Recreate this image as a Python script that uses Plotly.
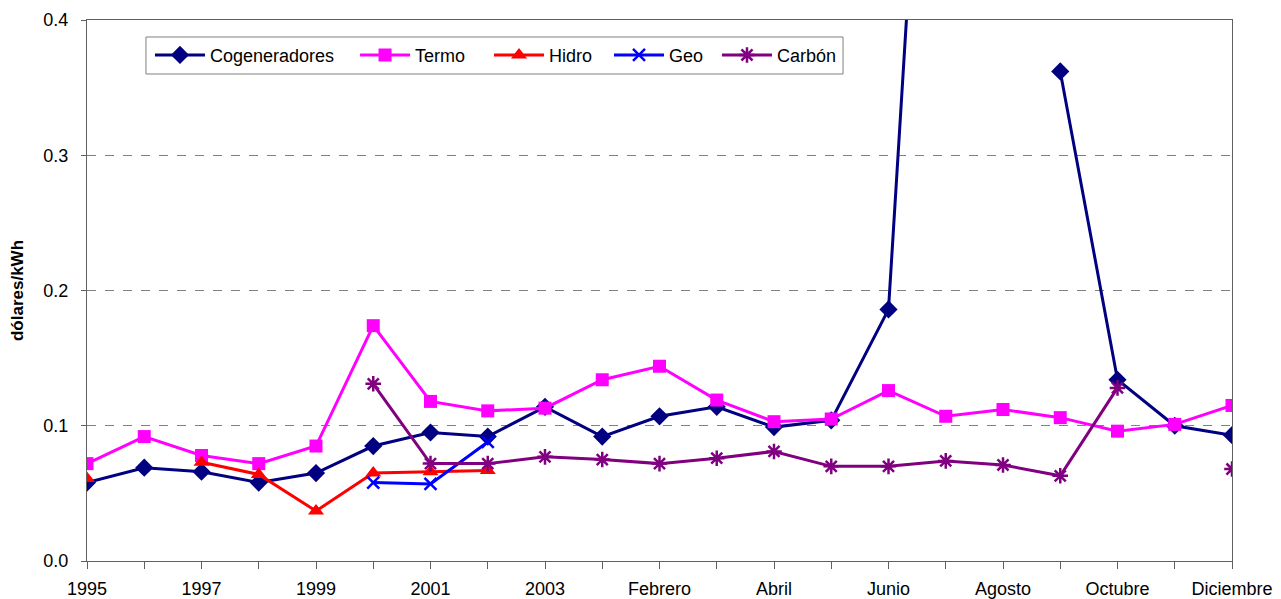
import plotly.graph_objects as go

categories = ["1995", "1996", "1997", "1998", "1999", "2000", "2001", "2002", "2003",
              "Enero", "Febrero", "Marzo", "Abril", "Mayo", "Junio", "Julio", "Agosto",
              "Septiembre", "Octubre", "Noviembre", "Diciembre"]

cogeneradores = [0.058, 0.069, 0.066, 0.058, 0.065, 0.085, 0.095, 0.092, 0.114,
                 0.092, 0.107, 0.114, 0.099, 0.104, 0.186, 0.87, None,
                 0.362, 0.134, 0.100, 0.093]
termo = [0.072, 0.092, 0.078, 0.072, 0.085, 0.174, 0.118, 0.111, 0.113,
         0.134, 0.144, 0.119, 0.103, 0.105, 0.126, 0.107, 0.112,
         0.106, 0.096, 0.101, 0.115]
hidro = [0.061, None, 0.073, 0.064, 0.037, 0.065, 0.066, 0.067] + [None] * 13
geo = [None] * 5 + [0.058, 0.057, 0.088] + [None] * 13
carbon = [None] * 5 + [0.131, 0.072, 0.072, 0.077,
          0.075, 0.072, 0.076, 0.081, 0.070, 0.070, 0.074, 0.071,
          0.063, 0.128, None, 0.068]

tick_labels = [c if i % 2 == 0 else "" for i, c in enumerate(categories)]

series = [
    ("Cogeneradores", cogeneradores, "#000080", "diamond", 14),
    ("Termo", termo, "#FF00FF", "square", 13),
    ("Hidro", hidro, "#FF0000", "triangle-up", 14),
    ("Geo", geo, "#0000FF", "x-thin-open", 12),
    ("Carbón", carbon, "#800080", "asterisk-open", 13),
]
legend_x = [0.0550, 0.2341, 0.3511, 0.4559, 0.5502]

fig = go.Figure()
legend_layout = {}
for i, (name, vals, color, sym, size) in enumerate(series):
    open_sym = sym.endswith("open")
    lg = "legend" if i == 0 else f"legend{i + 1}"
    fig.add_trace(go.Scatter(
        x=categories, y=vals, name=name, mode="lines+markers",
        line=dict(color=color, width=3),
        marker=dict(symbol=sym, size=size, color=color,
                    line=dict(color=color, width=2.5 if open_sym else 0)),
        connectgaps=False, legend=lg,
    ))
    legend_layout[lg] = dict(
        x=legend_x[i], y=0.969, xanchor="left", yanchor="top",
        orientation="h", borderwidth=0, bgcolor="rgba(0,0,0,0)",
        font=dict(size=18), itemwidth=50,
    )

fig.add_shape(type="rect", xref="paper", yref="paper",
              x0=0.0515, x1=0.6603, y0=0.9002, y1=0.9686,
              line=dict(color="#808080", width=1), fillcolor="white", layer="below")

fig.update_layout(
    width=1281, height=599,
    margin=dict(l=79, r=57, t=12, b=46),
    paper_bgcolor="white", plot_bgcolor="white",
    font=dict(family="Liberation Sans, Arial, sans-serif", size=18, color="black"),
    showlegend=True,
    **legend_layout,
)
fig.update_layout(
    xaxis2=dict(
        type="category", categoryorder="array", categoryarray=categories,
        range=[0, len(categories) - 1], overlaying="x", anchor="y", side="bottom",
        tickmode="array", tickvals=categories, ticktext=[""] * len(categories),
        ticks="inside", ticklen=5, tickcolor="#606060",
        showline=False, showgrid=False, zeroline=False, automargin=False,
        showticklabels=False,
    )
)
fig.update_xaxes(
    selector=dict(overlaying=None),
)
fig.layout.xaxis.update(
    type="category", categoryorder="array", categoryarray=categories,
    range=[0, len(categories) - 1], automargin=False,
    tickmode="array", tickvals=categories, ticktext=tick_labels,
    ticks="outside", ticklen=7, tickcolor="#606060", ticklabelstandoff=4,
    showline=True, linecolor="#606060", linewidth=1, mirror=True,
    showgrid=False, zeroline=False,
)
fig.update_yaxes(
    range=[0, 0.4], dtick=0.1, tickformat=".1f", automargin=False,
    ticks="outside", ticklen=5, tickcolor="#606060", ticklabelstandoff=9,
    showline=True, linecolor="#606060", linewidth=1, mirror=True,
    showgrid=True, gridcolor="#808080", griddash="dash", gridwidth=1,
    zeroline=False,
    title=dict(text="<b>dólares/kWh</b>", font=dict(size=17), standoff=19),
)

fig.write_html("out.html")
